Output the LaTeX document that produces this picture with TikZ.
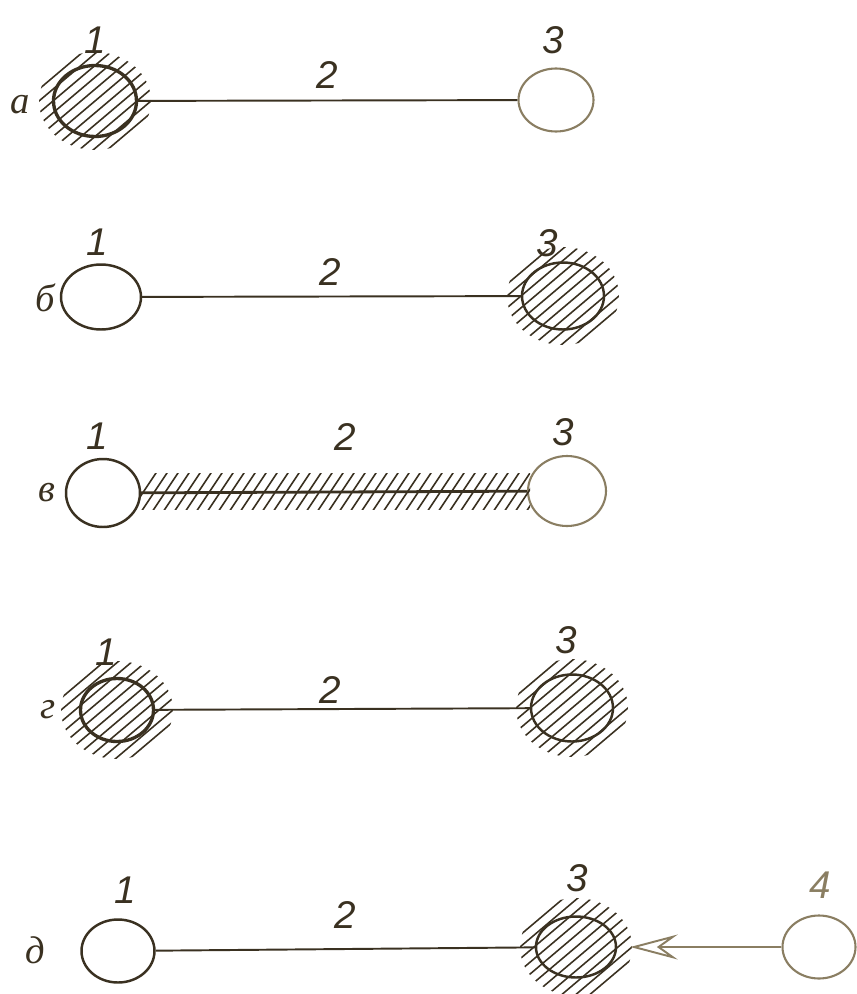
\documentclass[tikz,border=0pt]{standalone}
\usepackage{fontspec}
\setmainfont{Liberation Serif}
\newfontfamily\digitfont{Liberation Sans}
\usetikzlibrary{arrows.meta,shapes.geometric}
\definecolor{InkDark}{HTML}{3A3121}
\definecolor{InkFaint}{HTML}{8A7E62}

% hatched surround of a ball node
\newcommand{\hatchBall}[1]{%
  \begin{scope}
    \clip (#1) ellipse [x radius=56, y radius=49];
    \foreach \k in {-9,...,9}
      \draw[hatch] ([shift={(\k*14-65,55)}]#1.center) -- ++(130,-110);
  \end{scope}}

\begin{document}
\begin{tikzpicture}[x=0.02cm,y=-0.02cm,
    ball/.style={ellipse,draw=InkDark,line width=1.4pt,inner sep=0pt,
      minimum width=1.56cm,minimum height=1.3cm},
    fatball/.style={ball,line width=1.9pt},
    faintball/.style={ball,draw=InkFaint,line width=1.2pt},
    rod/.style={InkDark,line width=1.1pt},
    hatch/.style={InkDark,line width=0.9pt},
    num/.style={text=InkDark,font=\digitfont\itshape\fontsize{22}{26}\selectfont},
    rowmark/.style={text=InkDark,font=\itshape\fontsize{22}{26}\selectfont}]

  \useasboundingbox (0,0) rectangle (857,994);

  % row a
  \node[fatball,minimum width=1.66cm,minimum height=1.42cm] (a1) at (95,101) {};
  \node[faintball,minimum width=1.5cm,minimum height=1.26cm] (a3) at (556,100) {};
  \hatchBall{a1}
  \draw[rod] (a1) -- (a3);
  \node[rowmark] (la) at (20,105) {а};
  \node[num] (na1) at (95,40) {1};
  \node[num] (na2) at (327,75) {2};
  \node[num] (na3) at (553,40) {3};

  % row b
  \node[ball,minimum width=1.6cm,minimum height=1.3cm] (b1) at (101,297) {};
  \node[ball,minimum width=1.64cm,minimum height=1.34cm] (b3) at (563,296) {};
  \hatchBall{b3}
  \draw[rod] (b1) -- (b3);
  \node[rowmark] (lb) at (45,298) {б};
  \node[num] (nb1) at (97,242) {1};
  \node[num] (nb2) at (330,272) {2};
  \node[num] (nb3) at (547,243) {3};

  % row v
  \node[ball,minimum width=1.48cm,minimum height=1.36cm] (v1) at (103,493) {};
  \node[faintball,minimum width=1.56cm,minimum height=1.4cm] (v3) at (567,491) {};
  \begin{scope}
    \clip (140,473) rectangle (530,509);
    \foreach \k in {0,...,37}
      \draw[hatch] (130+\k*11,512) -- ++(28,-42);
  \end{scope}
  \draw[rod,line width=1.6pt] (v1) -- (v3);
  \node[rowmark] (lv) at (47,493) {в};
  \node[num] (nv1) at (97,436) {1};
  \node[num] (nv2) at (345,437) {2};
  \node[num] (nv3) at (563,432) {3};

  % row g
  \node[fatball,minimum width=1.46cm,minimum height=1.26cm] (g1) at (117,710) {};
  \node[ball,minimum width=1.64cm,minimum height=1.34cm] (g3) at (572,708) {};
  \hatchBall{g1}
  \hatchBall{g3}
  \draw[rod] (g1) -- (g3);
  \node[rowmark] (lg) at (48,710) {г};
  \node[num] (ng1) at (106,652) {1};
  \node[num] (ng2) at (330,690) {2};
  \node[num] (ng3) at (566,640) {3};

  % row d
  \node[ball,minimum width=1.46cm,minimum height=1.26cm] (d1) at (118,951) {};
  \node[ball,minimum width=1.6cm,minimum height=1.22cm] (d3) at (576,947) {};
  \node[faintball,minimum width=1.46cm,minimum height=1.26cm] (d4) at (819,947) {};
  \hatchBall{d3}
  \draw[rod] (d1) -- (d3);
  \draw[InkFaint,line width=1.1pt,shorten >=0.26cm,
    -{Stealth[length=0.95cm,width=0.5cm,inset=0.35cm,open]}] (d4) -- (d3);
  \node[rowmark] (ld) at (35,950) {д};
  \node[num] (nd1) at (125,890) {1};
  \node[num] (nd2) at (345,915) {2};
  \node[num] (nd3) at (577,878) {3};
  \node[num,text=InkFaint] (nd4) at (820,885) {4};

\end{tikzpicture}
\end{document}
